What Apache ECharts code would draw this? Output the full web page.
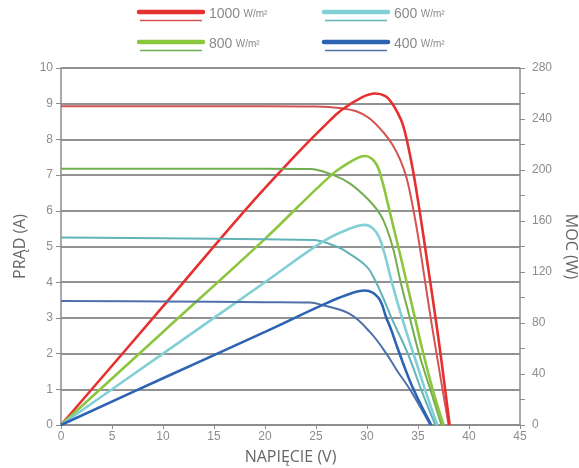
<!DOCTYPE html>
<html>
<head>
    <meta charset="utf-8">
    <title>ECharts</title>
    <script src="https://cdn.jsdelivr.net/npm/echarts@6/dist/echarts.min.js"></script>
    <style>
        html, body {
            width: 100%;
            height: 100%;
            margin: 0;
            background: #ffffff;
        }
    </style>
</head>
<body>
    <div id="main" style="width: 579px;height:468px;"></div>
    <script type="text/javascript">
        // irradiance levels (legend)
        var irradiance = ['1000', '800', '600', '400'];

        // current curves [V, A]
        var current1000 = [[0, 8.93], [10, 8.93], [20, 8.93], [25, 8.92], [27.5, 8.87], [29, 8.78], [30.2, 8.6], [31.6, 8.2],
            [32.5, 7.85], [33.3, 7.4], [33.9, 6.9], [34.5, 6.1], [35, 5.3], [35.6, 4.2], [36.3, 2.9], [37.2, 1.35], [38.0, 0]];
        var current800 = [[0, 7.18], [10, 7.18], [20, 7.18], [24.4, 7.17], [26.7, 7.0], [28.3, 6.77], [30.0, 6.35], [31.3, 5.9],
            [32.0, 5.45], [32.6, 4.9], [33.3, 4.0], [34.2, 3.0], [35.1, 2.0], [36.2, 1.0], [37.3, 0]];
        var current600 = [[0, 5.25], [10, 5.23], [20, 5.2], [24.7, 5.18], [27, 5.0], [28, 4.85], [30, 4.43], [30.8, 4.05],
            [31.5, 3.62], [32.4, 3.0], [34.0, 2.0], [35.3, 1.0], [36.7, 0]];
        var current400 = [[0, 3.47], [10, 3.46], [20, 3.44], [24.4, 3.43], [25.6, 3.36], [28.3, 3.11], [30.3, 2.6], [31.9, 2.0],
            [33.0, 1.5], [34.2, 1.0], [36.2, 0]];

        // power curves [V, W]
        var power1000 = [[0, 0], [10, 93], [18, 168], [23.4, 215], [26, 236], [27.5, 247], [29.5, 257], [30.8, 260], [31.8, 258],
            [32.4, 253], [33.0, 245], [33.5, 236], [34.0, 220], [34.5, 200], [35.0, 176], [35.5, 150], [36.0, 123], [36.5, 96],
            [37.0, 68], [37.5, 38], [38.1, 0]];
        var power800 = [[0, 0], [10, 73], [20, 146], [26.5, 196], [28.5, 207], [29.8, 211], [30.8, 206], [31.4, 194], [32.0, 175],
            [32.6, 155], [33.3, 132], [34.0, 108], [34.7, 84], [35.4, 60], [36.4, 29], [37.5, 0]];
        var power600 = [[0, 0], [10, 56], [20, 112], [25.7, 144], [28, 153], [29.8, 157], [30.6, 154], [31.2, 147], [31.8, 132],
            [32.4, 113], [33.1, 93], [33.9, 72], [34.8, 50], [35.8, 25], [36.9, 0]];
        var power400 = [[0, 0], [10, 36.7], [20, 73], [25.6, 94], [28, 102], [29.8, 105.5], [31.1, 100], [31.9, 84], [32.4, 74],
            [33.1, 58], [34.5, 29], [36.3, 0]];

        var powerColors = ['#e62f2f', '#8cc63e', '#82cfd5', '#2c63b3'];
        var currentColors = ['#d65353', '#70ae4f', '#62b3b7', '#4f70a9'];
        var currents = [current1000, current800, current600, current400];
        var powers = [power1000, power800, power600, power400];

        var myChart = echarts.init(document.getElementById('main'));

        var series = [];
        for (var i = 0; i < 4; i++) {
            series.push({
                name: 'I ' + irradiance[i],
                type: 'line',
                yAxisIndex: 0,
                data: currents[i],
                showSymbol: false,
                smooth: 0.4,
                lineStyle: { color: currentColors[i], width: 2 }
            });
            series.push({
                name: 'P ' + irradiance[i],
                type: 'line',
                yAxisIndex: 1,
                data: powers[i],
                showSymbol: false,
                smooth: 0.4,
                lineStyle: { color: powerColors[i], width: 2.6 }
            });
        }

        // legend drawn by hand: thick line + thin line + label
        var legendPos = [[139, 12], [139, 42], [324, 12], [324, 42]];
        var graphics = [];
        legendPos.forEach(function (p, k) {
            graphics.push({
                type: 'line', shape: { x1: p[0], y1: p[1], x2: p[0] + 64, y2: p[1] },
                style: { stroke: powerColors[k], lineWidth: 4.5, lineCap: 'round' }
            });
            graphics.push({
                type: 'line', shape: { x1: p[0] + 1, y1: p[1] + 8.5, x2: p[0] + 63, y2: p[1] + 8.5 },
                style: { stroke: currentColors[k], lineWidth: 1.6 }
            });
            graphics.push({
                type: 'text', left: p[0] + 70, top: p[1] - 5,
                style: {
                    text: '{a|' + irradiance[k] + '} {b|W/m²}',
                    fill: '#8a8a8a',
                    rich: {
                        a: { fontSize: 14, fontFamily: 'Liberation Sans', fill: '#8a8a8a' },
                        b: { fontSize: 10, fontFamily: 'Liberation Sans', fill: '#8a8a8a' }
                    }
                }
            });
        });

        var option = {
            animation: false,
            grid: { left: 61, right: 59, top: 68, bottom: 43, outerBoundsMode: 'none', containLabel: false },
            graphic: graphics,
            xAxis: {
                type: 'value',
                min: 0, max: 45, interval: 5,
                name: 'NAPIĘCIE (V)',
                nameLocation: 'middle',
                nameGap: 24,
                nameTextStyle: { fontSize: 16, color: '#666', fontFamily: 'Open Sans' },
                axisLine: { lineStyle: { color: '#8c8c8c', width: 1.5 } },
                axisTick: { show: true, length: 4, lineStyle: { color: '#8c8c8c' } },
                axisLabel: { color: '#8c8c8c', fontSize: 12, fontFamily: 'Liberation Sans', margin: 6 },
                splitLine: { show: false }
            },
            yAxis: [{
                type: 'value',
                min: 0, max: 10, interval: 1,
                name: 'PRĄD (A)',
                nameLocation: 'middle',
                nameGap: 31,
                nameTextStyle: { fontSize: 16, color: '#666', fontFamily: 'Open Sans' },
                axisLine: { show: true, lineStyle: { color: '#8c8c8c', width: 1.5 } },
                axisTick: { show: true, length: 5, lineStyle: { color: '#8c8c8c' } },
                axisLabel: { color: '#8c8c8c', fontSize: 12, fontFamily: 'Liberation Sans', margin: 8 },
                splitLine: { show: true, lineStyle: { color: '#6e6e6e', width: 1.5 } }
            }, {
                type: 'value',
                position: 'right',
                min: 0, max: 280, interval: 20,
                name: 'MOC (W)',
                nameLocation: 'middle',
                nameGap: 42,
                nameRotate: -90,
                nameTextStyle: { fontSize: 16, color: '#666', fontFamily: 'Open Sans' },
                axisLine: { show: true, lineStyle: { color: '#8c8c8c', width: 1.5 } },
                axisTick: { show: true, length: 5, lineStyle: { color: '#8c8c8c' } },
                axisLabel: {
                    color: '#8c8c8c', fontSize: 12, fontFamily: 'Liberation Sans', margin: 12,
                    formatter: function (v) { return v % 40 === 0 ? String(v) : ''; }
                },
                splitLine: { show: false }
            }],
            series: series
        };

        myChart.setOption(option);
    </script>
</body>
</html>
